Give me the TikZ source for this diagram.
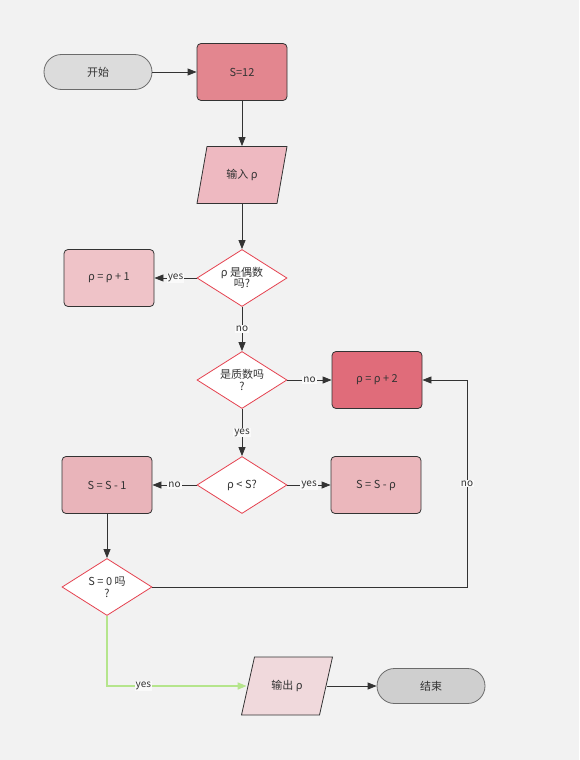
\documentclass[tikz,border=0pt]{standalone}
\usepackage{fontspec}
\setmainfont{Noto Sans CJK SC}
\usetikzlibrary{shapes.geometric,arrows.meta,calc}
\definecolor{bg}{HTML}{F2F2F2}
\definecolor{txt}{HTML}{333333}
\definecolor{dark}{HTML}{333333}
\definecolor{termline}{HTML}{6B6B6B}
\definecolor{decred}{HTML}{E5414F}
\definecolor{lblbg}{HTML}{FAFAFA}
\definecolor{cstart}{HTML}{DCDCDC}
\definecolor{cend}{HTML}{CFCFCF}
\definecolor{cs12}{HTML}{E3868F}
\definecolor{cin}{HTML}{EEB9C1}
\definecolor{cp1}{HTML}{EFC3C8}
\definecolor{cp2}{HTML}{E06C7A}
\definecolor{csm1}{HTML}{E9B4BA}
\definecolor{csmp}{HTML}{EBB7BC}
\definecolor{cout}{HTML}{F0D9DC}
\definecolor{green}{HTML}{B5E58C}
\begin{document}
\begin{tikzpicture}[x=1pt,y=-1pt,
  base/.style={font=\fontsize{11}{11.5}\selectfont, text=txt, inner sep=0pt, line width=0.8pt},
  term/.style={base, draw=termline, rounded corners=17.5pt, minimum width=108pt, minimum height=35pt},
  proc/.style={base, draw=dark, rounded corners=4pt, minimum width=90pt, minimum height=57pt},
  dec/.style={base, diamond, draw=decred, fill=white, minimum width=90pt, minimum height=57pt, aspect=1.58, align=center},
  io/.style={base, minimum width=80pt, minimum height=57pt},
  para/.style={draw=dark, line width=0.8pt},
  arr/.style={draw=dark, line width=0.8pt, -{Triangle[length=9pt,width=7pt]}},
  garr/.style={draw=green, line width=1.5pt, -{Triangle[length=9pt,width=7pt]}},
  lbl/.style={font=\fontsize{10}{11}\selectfont, text=txt, fill=lblbg, inner sep=1pt}
]
\fill[bg] (0,0) rectangle (579,760);
\useasboundingbox (0,0) rectangle (579,760);

% parallelogram shapes
\coordinate (inC) at (242,175);
\coordinate (outC) at (287,686);
\draw[para, fill=cin] ($(inC)+(-35,-28.5)$) -- ($(inC)+(45,-28.5)$) -- ($(inC)+(35,28.5)$) -- ($(inC)+(-45,28.5)$) -- cycle;
\draw[para, fill=cout] ($(outC)+(-32.5,-29)$) -- ($(outC)+(45.5,-29)$) -- ($(outC)+(32.5,29)$) -- ($(outC)+(-45.5,29)$) -- cycle;

% nodes
\node[term, fill=cstart] (start) at (98,72) {开始};
\node[proc, fill=cs12] (s12) at (242,72) {S=12};
\node[io] (in) at (inC) {输入 ρ};
\node[dec] (d1) at (242,278) {ρ 是偶数\\吗?};
\node[proc, fill=cp1] (p1) at (109,278) {ρ = ρ + 1};
\node[dec] (d2) at (242,380) {是质数吗\\?};
\node[proc, fill=cp2] (p2) at (377,380) {ρ = ρ + 2};
\node[dec] (d3) at (242,485) {ρ < S?};
\node[proc, fill=csm1] (sm1) at (107,485) {S = S - 1};
\node[proc, fill=csmp] (smp) at (376,485) {S = S - ρ};
\node[dec] (d4) at (107,587) {S = 0 吗\\?};
\node[io] (out) at (outC) {输出 ρ};
\node[term, fill=cend] (end) at (431,686) {结束};

% connectors
\draw[arr] (start) -- (s12);
\draw[arr] (s12) -- (in);
\draw[arr] (in) -- (d1);
\draw[arr] (d1) -- node[lbl]{yes} (p1);
\draw[arr] (d1) -- node[lbl]{no} (d2);
\draw[arr] (d2) -- node[lbl]{no} (p2);
\draw[arr] (d2) -- node[lbl]{yes} (d3);
\draw[arr] (d3) -- node[lbl]{no} (sm1);
\draw[arr] (d3) -- node[lbl]{yes} (smp);
\draw[arr] (sm1) -- (d4);
\coordinate (c1) at (467,587);
\coordinate (c2) at (467,380);
\draw[arr] (d4.east) -- (c1) -- node[lbl]{no} (c2) -- (p2.east);
\coordinate (g1) at (107,686);
\draw[garr] (d4.south) -- (g1) -- node[lbl,pos=0.26]{yes} (out.west);
\draw[arr] (out) -- (end);
\end{tikzpicture}
\end{document}
